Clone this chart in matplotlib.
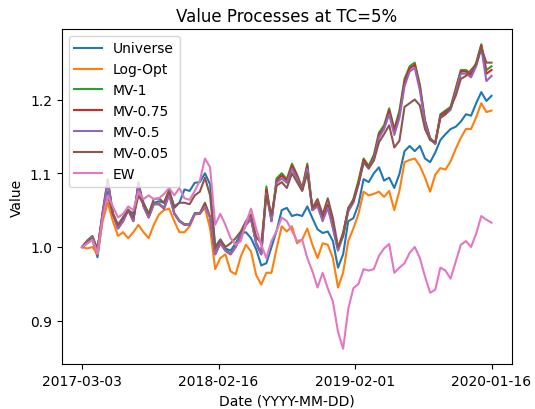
import numpy as np
import matplotlib
matplotlib.use("Agg")
import matplotlib.pyplot as plt

# trading-day index of each sampled point (0 .. 720)
day_index = np.arange(0, 721, 9)

tick_positions = [0, 240, 480, 720]
tick_labels = ["2017-03-03", "2018-02-16", "2019-02-01", "2020-01-16"]

universe = [1.000, 1.005, 1.010, 0.986, 1.040, 1.075, 1.045, 1.030, 1.040, 1.050,
            1.045, 1.080, 1.060, 1.045, 1.060, 1.062, 1.060, 1.075, 1.055, 1.060,
            1.078, 1.076, 1.087, 1.088, 1.100, 1.085, 1.000, 1.010, 0.998, 0.995,
            1.005, 1.018, 1.020, 1.012, 0.997, 0.975, 0.978, 1.000, 1.022, 1.050,
            1.053, 1.042, 1.044, 1.042, 1.055, 1.039, 1.024, 1.019, 1.021, 1.008,
            0.972, 0.990, 1.035, 1.039, 1.058, 1.092, 1.088, 1.100, 1.108, 1.090,
            1.094, 1.080, 1.099, 1.130, 1.137, 1.130, 1.137, 1.120, 1.115, 1.128,
            1.145, 1.153, 1.160, 1.163, 1.170, 1.180, 1.178, 1.195, 1.210, 1.198,
            1.205]

log_opt = [1.000, 0.998, 1.000, 0.990, 1.035, 1.060, 1.035, 1.015, 1.020, 1.012,
           1.020, 1.030, 1.020, 1.012, 1.030, 1.044, 1.050, 1.052, 1.035, 1.020,
           1.020, 1.028, 1.044, 1.045, 1.053, 1.025, 0.970, 0.985, 0.990, 0.967,
           0.963, 0.987, 1.003, 0.994, 0.962, 0.949, 0.965, 0.965, 0.998, 1.028,
           1.021, 1.028, 1.005, 1.010, 1.025, 1.003, 0.985, 1.005, 1.003, 0.985,
           0.945, 0.965, 1.008, 1.025, 1.045, 1.075, 1.070, 1.072, 1.075, 1.068,
           1.076, 1.050, 1.076, 1.115, 1.118, 1.120, 1.110, 1.094, 1.075, 1.098,
           1.107, 1.105, 1.116, 1.133, 1.148, 1.160, 1.160, 1.176, 1.195, 1.183,
           1.185]

mv_1 = [1.000, 1.009, 1.015, 0.996, 1.047, 1.092, 1.046, 1.026, 1.036, 1.051,
        1.036, 1.088, 1.056, 1.041, 1.059, 1.059, 1.053, 1.075, 1.046, 1.036,
        1.031, 1.031, 1.046, 1.046, 1.060, 1.041, 0.991, 1.006, 0.996, 0.991,
        1.001, 1.016, 1.031, 1.039, 1.006, 0.991, 1.082, 1.036, 1.093, 1.100,
        1.092, 1.113, 1.098, 1.080, 1.113, 1.050, 1.060, 1.040, 1.058, 1.030,
        0.998, 1.020, 1.052, 1.065, 1.090, 1.120, 1.110, 1.125, 1.155, 1.165,
        1.188, 1.160, 1.185, 1.228, 1.245, 1.250, 1.220, 1.172, 1.148, 1.140,
        1.180, 1.185, 1.190, 1.215, 1.240, 1.240, 1.235, 1.250, 1.275, 1.240,
        1.245]

mv_075 = [1.000, 1.008, 1.014, 0.995, 1.046, 1.090, 1.045, 1.025, 1.035, 1.050,
          1.035, 1.086, 1.055, 1.040, 1.058, 1.058, 1.052, 1.073, 1.045, 1.035,
          1.030, 1.030, 1.045, 1.045, 1.058, 1.040, 0.990, 1.005, 0.995, 0.990,
          1.000, 1.015, 1.030, 1.038, 1.005, 0.990, 1.078, 1.035, 1.090, 1.097,
          1.090, 1.110, 1.096, 1.078, 1.110, 1.050, 1.058, 1.038, 1.056, 1.028,
          0.996, 1.018, 1.050, 1.063, 1.088, 1.118, 1.108, 1.122, 1.152, 1.162,
          1.185, 1.157, 1.180, 1.224, 1.242, 1.247, 1.217, 1.170, 1.147, 1.140,
          1.178, 1.183, 1.188, 1.213, 1.238, 1.238, 1.233, 1.248, 1.273, 1.235,
          1.240]

mv_05 = [1.000, 1.008, 1.014, 0.995, 1.045, 1.088, 1.045, 1.025, 1.035, 1.050,
         1.035, 1.084, 1.055, 1.040, 1.058, 1.058, 1.052, 1.070, 1.045, 1.035,
         1.030, 1.030, 1.045, 1.045, 1.055, 1.040, 0.990, 1.005, 0.995, 0.990,
         1.000, 1.015, 1.030, 1.038, 1.005, 0.990, 1.072, 1.035, 1.087, 1.093,
         1.087, 1.106, 1.093, 1.077, 1.106, 1.050, 1.055, 1.035, 1.053, 1.025,
         0.995, 1.015, 1.048, 1.060, 1.085, 1.115, 1.106, 1.120, 1.148, 1.160,
         1.180, 1.152, 1.175, 1.218, 1.238, 1.243, 1.212, 1.168, 1.146, 1.140,
         1.176, 1.180, 1.186, 1.210, 1.235, 1.235, 1.230, 1.245, 1.270, 1.225,
         1.232]

mv_005 = [1.000, 1.007, 1.012, 0.997, 1.042, 1.070, 1.045, 1.030, 1.040, 1.050,
          1.040, 1.070, 1.058, 1.045, 1.065, 1.066, 1.060, 1.078, 1.053, 1.060,
          1.060, 1.058, 1.070, 1.075, 1.094, 1.070, 0.998, 1.010, 1.000, 1.005,
          1.012, 1.021, 1.035, 1.044, 1.014, 1.005, 1.070, 1.044, 1.083, 1.088,
          1.080, 1.100, 1.088, 1.076, 1.100, 1.053, 1.065, 1.044, 1.066, 1.039,
          1.000, 1.015, 1.053, 1.062, 1.085, 1.115, 1.107, 1.117, 1.142, 1.153,
          1.165, 1.135, 1.144, 1.190, 1.195, 1.200, 1.192, 1.160, 1.145, 1.142,
          1.175, 1.180, 1.189, 1.205, 1.228, 1.232, 1.240, 1.248, 1.270, 1.250,
          1.250]

ew = [1.000, 1.005, 1.010, 0.992, 1.040, 1.070, 1.055, 1.040, 1.045, 1.055,
      1.050, 1.075, 1.065, 1.070, 1.065, 1.066, 1.072, 1.080, 1.070, 1.080,
      1.066, 1.064, 1.076, 1.090, 1.120, 1.108, 1.030, 1.045, 1.030, 1.012,
      1.003, 1.008, 1.032, 1.052, 1.025, 1.003, 0.985, 1.008, 1.022, 1.040,
      1.035, 1.022, 1.008, 1.010, 0.985, 0.967, 0.945, 0.965, 0.944, 0.926,
      0.885, 0.862, 0.916, 0.944, 0.950, 0.970, 0.968, 0.970, 0.988, 0.998,
      1.004, 0.965, 0.972, 0.978, 0.992, 1.000, 0.985, 0.960, 0.938, 0.942,
      0.972, 0.968, 0.957, 0.980, 1.003, 1.008, 1.000, 1.018, 1.042, 1.037,
      1.033]

series = [("Universe", universe), ("Log-Opt", log_opt), ("MV-1", mv_1),
          ("MV-0.75", mv_075), ("MV-0.5", mv_05), ("MV-0.05", mv_005), ("EW", ew)]

fig = plt.figure(figsize=(5.35, 4.10), dpi=100)
ax = fig.add_axes([0.1153, 0.1098, 0.8417, 0.8171])
for name, vals in series:
    ax.plot(day_index, vals, label=name, linewidth=1.5)

ax.set_xticks(tick_positions)
ax.set_xticklabels(tick_labels)
ax.set_yticks([0.9, 1.0, 1.1, 1.2])
ax.set_title("Value Processes at TC=5%")
ax.set_xlabel("Date (YYYY-MM-DD)")
ax.set_ylabel("Value")
ax.legend(loc="upper left")
fig.savefig("out.png", dpi=100)
